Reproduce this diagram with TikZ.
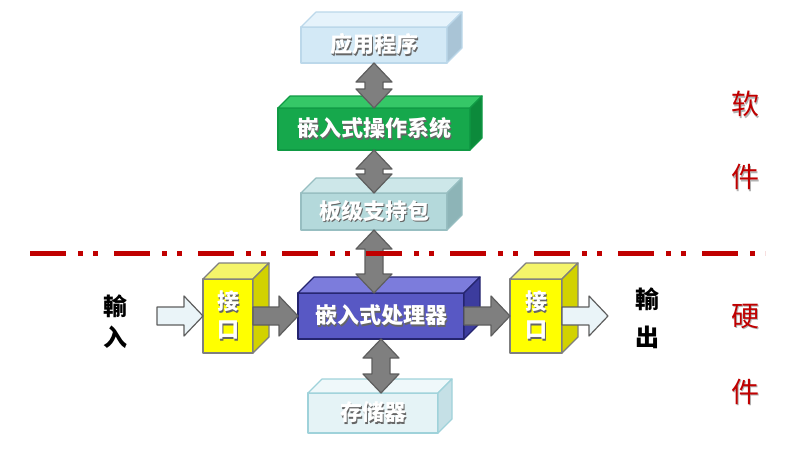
\documentclass[tikz,border=0pt]{standalone}
\usepackage{fontspec}
\setmainfont{Noto Sans CJK SC}
\usetikzlibrary{calc}
%
\definecolor{appF}{HTML}{D3E9F6}
\definecolor{appT}{HTML}{E6F3FB}
\definecolor{appS}{HTML}{A9C4D6}
\definecolor{appB}{HTML}{BCD8EA}
\definecolor{osF}{HTML}{16A84C}
\definecolor{osT}{HTML}{35C767}
\definecolor{osS}{HTML}{0C8A3B}
\definecolor{osB}{HTML}{0F9A44}
\definecolor{bspF}{HTML}{B4D9DB}
\definecolor{bspT}{HTML}{CDE7E9}
\definecolor{bspS}{HTML}{8DB4B7}
\definecolor{bspB}{HTML}{97BEC1}
\definecolor{cpuF}{HTML}{5858C4}
\definecolor{cpuT}{HTML}{7C7CDC}
\definecolor{cpuS}{HTML}{3C3C9E}
\definecolor{cpuB}{HTML}{24246E}
\definecolor{memF}{HTML}{E5F3F6}
\definecolor{memT}{HTML}{EFF8FA}
\definecolor{memS}{HTML}{C5E0E6}
\definecolor{memB}{HTML}{9FD2DA}
\definecolor{ifF}{HTML}{FFFF00}
\definecolor{ifT}{HTML}{F4F46A}
\definecolor{ifS}{HTML}{D2D200}
\definecolor{ifB}{HTML}{7F7F7F}
\definecolor{arrF}{HTML}{7F7F7F}
\definecolor{arrB}{HTML}{5E5E5E}
\definecolor{holF}{HTML}{EAF4F8}
\definecolor{hwred}{HTML}{C00000}
%
\newcommand\shadowed[2][black!60]{\rlap{\raisebox{-1.5pt}{\hspace{1.5pt}\textcolor{#1}{#2}}}#2}
% name, colour prefix, centre, width, height, depth, text
\newcommand\threed[7]{%
  \node[face, draw=#2B, fill=#2F, minimum width=#4, minimum height=#5, boxtext] (#1) at (#3) {#7};
  \draw[face, draw=#2B, fill=#2T] (#1.north west) -- ++(#6,#6) -- ($(#1.north east)+(#6,#6)$) -- (#1.north east) -- cycle;
  \draw[face, draw=#2B, fill=#2S] (#1.north east) -- ++(#6,#6) -- ($(#1.south east)+(#6,#6)$) -- (#1.south east) -- cycle;
}
% block arrows: style, from, to
\newcommand\varrow[3]{%
  \path[#1] let \p1=(#2), \p2=(#3) in
    (\x1,\y1) -- (\x1+18pt,\y1-19pt) -- (\x1+9pt,\y1-19pt) -- (\x1+9pt,\y2+19pt)
    -- (\x1+18pt,\y2+19pt) -- (\x1,\y2) -- (\x1-18pt,\y2+19pt) -- (\x1-9pt,\y2+19pt)
    -- (\x1-9pt,\y1-19pt) -- (\x1-18pt,\y1-19pt) -- cycle;
}
\newcommand\harrow[3]{%
  \path[#1] let \p1=(#2), \p2=(#3) in
    (\x1,\y1+9pt) -- (\x2-19pt,\y1+9pt) -- (\x2-19pt,\y1+20pt) -- (\x2,\y1)
    -- (\x2-19pt,\y1-20pt) -- (\x2-19pt,\y1-9pt) -- (\x1,\y1-9pt) -- cycle;
}
%
\tikzset{
  face/.style={line width=1.2pt, line join=round, inner sep=0pt, outer sep=0pt},
  boxtext/.style={text=white, font=\fontsize{22}{28}\selectfont\bfseries, align=center},
  greyarrow/.style={draw=arrB, fill=arrF, line width=1.2pt, line join=round},
  hollowarrow/.style={draw=arrB, fill=holF, line width=1.2pt, line join=round},
  sidelabel/.style={text=hwred, align=center},
  iolabel/.style={align=center, font=\bfseries},
  hwline/.style={draw=hwred, line width=5pt,
    dash pattern=on 36pt off 12pt on 5pt off 10pt on 5pt off 16pt}
}
\begin{document}
\begin{tikzpicture}[x=1pt, y=1pt]
      \useasboundingbox (0,0) rectangle (799,451);
      %
      \threed{app}{app}{374,406}{146pt}{36pt}{15}{\shadowed{应用程序}}
      \threed{os}{os}{374,322}{192pt}{42pt}{12}{\shadowed{嵌入式操作系统}}
      \threed{bsp}{bsp}{374,239.5}{146pt}{37pt}{15}{\shadowed{板级支持包}}
      \threed{cpu}{cpu}{381,135}{166pt}{46pt}{16}{\shadowed{嵌入式处理器}}
      \threed{mem}{mem}{373,38}{130pt}{40pt}{14}{\shadowed{存储器}}
      \threed{ifl}{if}{228,135}{50pt}{74pt}{16}{\shadowed{接}\\\shadowed{口}}
      \threed{ifr}{if}{536,135}{52pt}{74pt}{16}{\shadowed{接}\\\shadowed{口}}
      %
      \coordinate (inarrow) at (157,135);
      \coordinate (outarrow) at (608,135);
      %
      \varrow{greyarrow}{app.south}{os.north}
      \varrow{greyarrow}{os.south}{bsp.north}
      \varrow{greyarrow}{bsp.south}{cpu.north}
      \varrow{greyarrow}{cpu.south}{mem.north}
      \harrow{hollowarrow}{inarrow}{ifl.west}
      \harrow{greyarrow}{ifl.east}{cpu.west}
      \harrow{greyarrow}{cpu.east}{ifr.west}
      \harrow{hollowarrow}{ifr.east}{outarrow}
      %
      \coordinate (lineL) at (30,198);
      \coordinate (lineR) at (765,198);
      \draw[hwline] (lineL) -- (lineR);
      %
      \node[iolabel, font=\fontsize{24}{31}\selectfont\bfseries] (inlabel) at (115,129) {輸\\入};
      \node[iolabel, font=\fontsize{24}{38}\selectfont\bfseries] (outlabel) at (647,133) {輸\\出};
      \node[sidelabel, font=\fontsize{28}{73}\selectfont] (soft) at (745,309.5) {\shadowed[black!30]{软}\\\shadowed[black!30]{件}};
      \node[sidelabel, font=\fontsize{28}{76}\selectfont] (hard) at (745,96) {\shadowed[black!30]{硬}\\\shadowed[black!30]{件}};
      %
\end{tikzpicture}
\end{document}
